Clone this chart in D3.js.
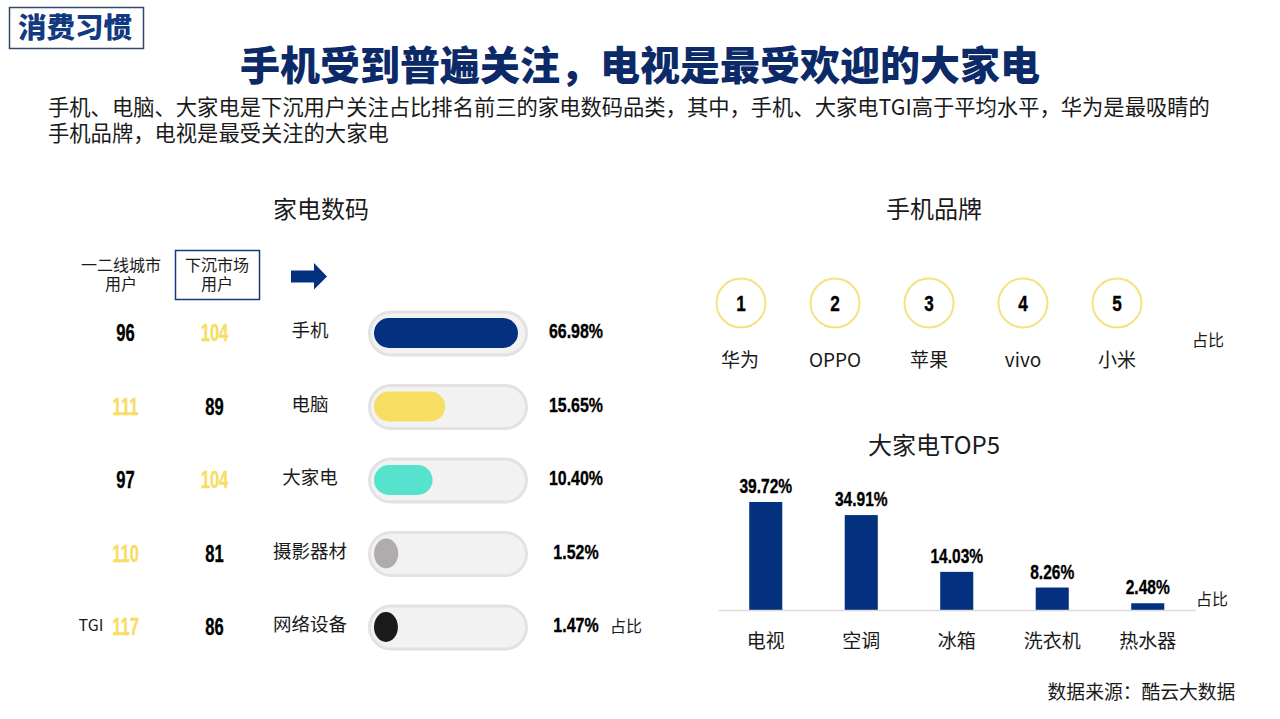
<!DOCTYPE html>
<html>
<head>
<meta charset="utf-8">
<script src="https://cdn.jsdelivr.net/npm/d3@7"></script>
<style>
  html, body { margin: 0; padding: 0; background: #fff; }
  svg { display: block; }
  text { font-family: "Noto Sans CJK SC", sans-serif; fill: #1a1a1a; }
  .num { font-family: "Liberation Sans", sans-serif; font-weight: 700; stroke-width: 0.35; }
</style>
</head>
<body>
<div id="viz"></div>
<script>
const w = 1280;
const h = 719;

const navy = "#03307f";
const yellow = "#f7dd62";

// 家电数码
const categories = ["手机", "电脑", "大家电", "摄影器材", "网络设备"];
const shares = [66.98, 15.65, 10.40, 1.52, 1.47];
const shareColors = [navy, yellow, "#55e3cd", "#b0acae", "#1a1a1a"];
const tgiTier1 = [96, 111, 97, 110, 117];
const tgiLower = [104, 89, 104, 81, 86];

// 手机品牌
const brands = ["华为", "OPPO", "苹果", "vivo", "小米"];
const brandRanks = [1, 2, 3, 4, 5];

// 大家电TOP5
const appliances = ["电视", "空调", "冰箱", "洗衣机", "热水器"];
const applianceShares = [39.72, 34.91, 14.03, 8.26, 2.48];

const svg = d3.select("#viz")
  .append("svg")
  .attr("width", w)
  .attr("height", h);

function label(x, y, str, size, anchor) {
  return svg.append("text")
    .attr("x", x)
    .attr("y", y)
    .attr("font-size", size)
    .attr("text-anchor", anchor || "middle")
    .text(str);
}

// the numbers are a narrow heavy face in the original, none is installed so squeeze the bold one
function condense(sel, k) {
  sel.attr("textLength", function() { return this.getComputedTextLength() * k; })
    .attr("lengthAdjust", "spacingAndGlyphs");
}

// header
svg.append("rect")
  .attr("x", 9.5).attr("y", 7.5)
  .attr("width", 134).attr("height", 41)
  .attr("fill", "#fff")
  .attr("stroke", "#34476b")
  .attr("stroke-width", 1.5);
label(75, 38, "消费习惯", 28.5).attr("font-weight", 900).style("fill", "#123a80");
label(640, 80, "手机受到普遍关注，电视是最受欢迎的大家电", 40).attr("font-weight", 900).style("fill", "#0c2a68");

const intro = svg.append("text").attr("font-size", 21.3);
intro.append("tspan").attr("x", 48).attr("y", 115)
  .text("手机、电脑、大家电是下沉用户关注占比排名前三的家电数码品类，其中，手机、大家电TGI高于平均水平，华为是最吸睛的");
intro.append("tspan").attr("x", 48).attr("y", 141)
  .text("手机品牌，电视是最受关注的大家电");

// left panel
label(321, 218, "家电数码", 24);
const tier1Head = svg.append("text").attr("font-size", 16).attr("text-anchor", "middle");
tier1Head.append("tspan").attr("x", 121).attr("y", 271).text("一二线城市");
tier1Head.append("tspan").attr("x", 121).attr("y", 290).text("用户");
svg.append("rect")
  .attr("x", 175.5).attr("y", 250.5)
  .attr("width", 84).attr("height", 49)
  .attr("fill", "none")
  .attr("stroke", "#123a80")
  .attr("stroke-width", 1.5);
const lowerHead = svg.append("text").attr("font-size", 16).attr("text-anchor", "middle");
lowerHead.append("tspan").attr("x", 217).attr("y", 271).text("下沉市场");
lowerHead.append("tspan").attr("x", 217).attr("y", 290).text("用户");
svg.append("path")
  .attr("d", "M291 270.5H314V263L327 276.5L314 289.500V282.500H291Z")
  .attr("fill", navy);

const rowY = d3.scalePoint().domain(categories).range([333, 627]);
const barLen = d3.scaleSqrt().domain([0, 66.98]).range([3, 144]);

const rows = svg.selectAll("g.row")
  .data(categories)
  .enter()
  .append("g")
  .attr("class", "row")
  .attr("transform", d => `translate(0,${rowY(d)})`);

function tgiColor(a, b) { return a > b ? yellow : "#000"; }

rows.append("text")
  .attr("class", "num")
  .attr("x", 125.500)
  .attr("y", 8)
  .attr("font-size", 23)
  .attr("text-anchor", "middle")
  .style("fill", (d, i) => tgiColor(tgiTier1[i], tgiLower[i]))
  .style("stroke", (d, i) => tgiColor(tgiTier1[i], tgiLower[i]))
  .text((d, i) => tgiTier1[i])
  .call(condense, 0.72);

rows.append("text")
  .attr("class", "num")
  .attr("x", 214.500)
  .attr("y", 8)
  .attr("font-size", 23)
  .attr("text-anchor", "middle")
  .style("fill", (d, i) => tgiColor(tgiLower[i], tgiTier1[i]))
  .style("stroke", (d, i) => tgiColor(tgiLower[i], tgiTier1[i]))
  .text((d, i) => tgiLower[i])
  .call(condense, 0.72);

rows.append("text")
  .attr("x", 310)
  .attr("y", 4)
  .attr("font-size", 18.5)
  .attr("text-anchor", "middle")
  .text(d => d);

rows.append("rect")
  .attr("x", 369.500)
  .attr("y", -21)
  .attr("width", 157)
  .attr("height", 43)
  .attr("rx", 21.5)
  .attr("fill", "#f2f2f2")
  .attr("stroke", "#e2e2e2")
  .attr("stroke-width", 3);

rows.append("rect")
  .attr("x", 374)
  .attr("y", -15)
  .attr("width", (d, i) => barLen(shares[i]))
  .attr("height", 30)
  .attr("rx", (d, i) => Math.min(15, barLen(shares[i]) / 2))
  .attr("ry", 15)
  .attr("fill", (d, i) => shareColors[i]);

rows.append("text")
  .attr("class", "num")
  .attr("x", 576)
  .attr("y", 5)
  .attr("font-size", 21)
  .attr("text-anchor", "middle")
  .style("fill", "#000")
  .style("stroke", "#000")
  .text((d, i) => shares[i].toFixed(2) + "%")
  .call(condense, 0.76);

label(91, 631, "TGI", 16);
label(626, 632, "占比", 16);

// phone brands
label(934, 218, "手机品牌", 24);

const brandX = d3.scalePoint().domain(brands).range([741, 1117]);

const brandG = svg.selectAll("g.brand")
  .data(brands)
  .enter()
  .append("g")
  .attr("class", "brand")
  .attr("transform", d => `translate(${brandX(d)},0)`);

brandG.append("circle")
  .attr("cy", 303)
  .attr("r", 24.500)
  .attr("fill", "#fff")
  .attr("stroke", "#f5e283")
  .attr("stroke-width", 2);

brandG.append("text")
  .attr("class", "num")
  .attr("y", 311)
  .attr("font-size", 22)
  .attr("text-anchor", "middle")
  .style("fill", "#000")
  .style("stroke", "#000")
  .text((d, i) => brandRanks[i])
  .call(condense, 0.78);

brandG.append("text")
  .attr("x", (d, i) => i === 0 ? -1 : 0)
  .attr("y", 367)
  .attr("font-size", 19)
  .attr("text-anchor", "middle")
  .text(d => d);

label(1208, 346, "占比", 16);

// appliance bars
label(934, 454, "大家电TOP5", 24);

const x = d3.scaleBand()
  .domain(appliances)
  .range([718, 1195.500])
  .paddingInner(0.654)
  .paddingOuter(0.327);

const y = d3.scaleLinear()
  .domain([0, 39.72])
  .range([610, 502]);

svg.selectAll("rect.bar")
  .data(appliances)
  .enter()
  .append("rect")
  .attr("class", "bar")
  .attr("x", d => x(d))
  .attr("y", (d, i) => y(applianceShares[i]))
  .attr("width", x.bandwidth())
  .attr("height", (d, i) => y(0) - y(applianceShares[i]))
  .attr("fill", navy);

svg.selectAll("text.barval")
  .data(appliances)
  .enter()
  .append("text")
  .attr("class", "barval num")
  .attr("x", d => x(d) + x.bandwidth() / 2)
  .attr("y", (d, i) => y(applianceShares[i]) - 9)
  .attr("font-size", 21)
  .attr("text-anchor", "middle")
  .style("fill", "#000")
  .style("stroke", "#000")
  .text((d, i) => applianceShares[i].toFixed(2) + "%")
  .call(condense, 0.74);

const xAxis = svg.append("g")
  .attr("transform", "translate(0,610)")
  .call(d3.axisBottom(x).tickSize(0).tickPadding(25));
xAxis.select(".domain").attr("stroke", "#dcdcdc").attr("stroke-width", 1.5);
xAxis.selectAll("text")
  .attr("font-size", 19)
  .attr("font-family", null);

label(1212, 605, "占比", 16);
label(1141.500, 699, "数据来源：酷云大数据", 18.8);
</script>
</body>
</html>
